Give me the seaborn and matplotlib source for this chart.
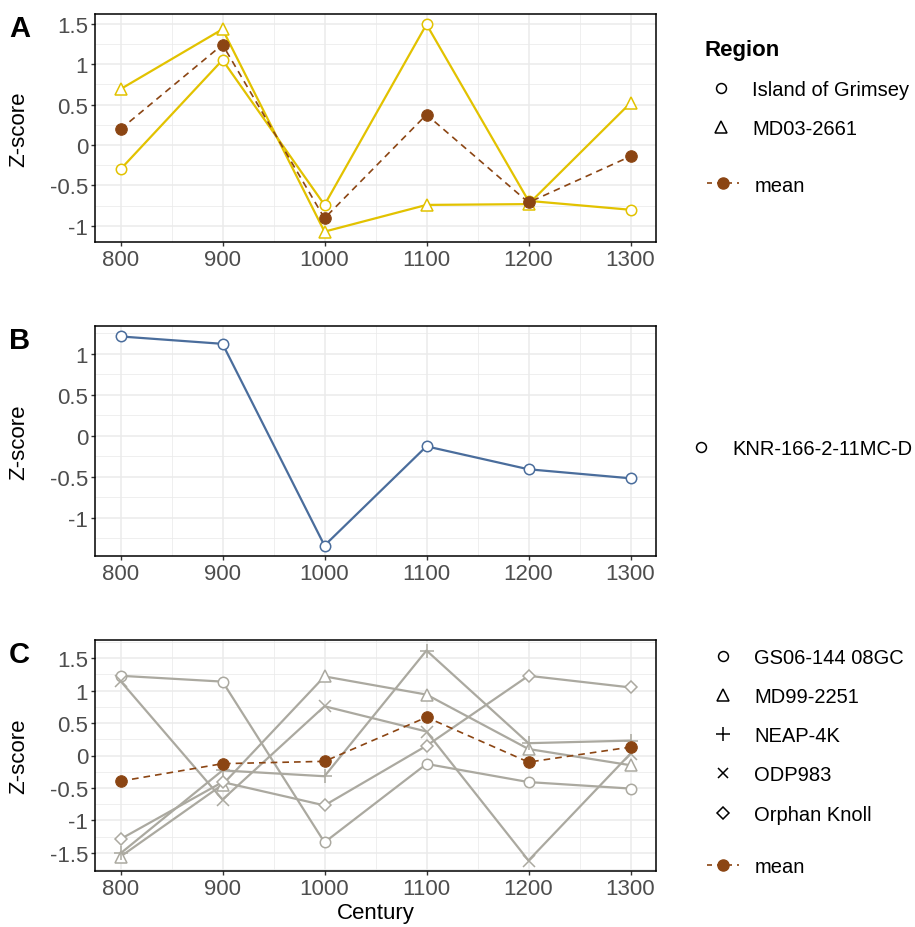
import numpy as np
import pandas as pd
import matplotlib
matplotlib.use("Agg")
import matplotlib.pyplot as plt
from matplotlib.lines import Line2D
from matplotlib.ticker import FixedLocator, FuncFormatter
import seaborn as sns

sns.set_theme(style="white")
plt.rcParams['font.family'] = ['Liberation Sans', 'DejaVu Sans']
plt.rcParams['text.color'] = 'black'
plt.rcParams['axes.labelcolor'] = 'black'

centuries = [800, 900, 1000, 1100, 1200, 1300]

# Panel A
grimsey = [-0.30, 1.05, -0.74, 1.49, -0.69, -0.80]
md03_2661 = [0.69, 1.43, -1.07, -0.74, -0.73, 0.52]
# Panel B
knr = [1.21, 1.12, -1.34, -0.13, -0.41, -0.52]
# Panel C
gs06 = [1.23, 1.14, -1.34, -0.13, -0.41, -0.51]
md99_2251 = [-1.56, -0.45, 1.22, 0.94, 0.10, -0.15]
neap4k = [-1.51, -0.23, -0.32, 1.62, 0.19, 0.23]
odp983 = [1.15, -0.68, 0.76, 0.37, -1.62, 0.03]
orphan = [-1.29, -0.41, -0.77, 0.15, 1.23, 1.05]

YELLOW = "#E2C200"
BLUE = "#4A6D9C"
GREY = "#ABA9A0"
BROWN = "#8B4513"

panelA = {"Island of Grimsey": grimsey, "MD03-2661": md03_2661}
panelB = {"KNR-166-2-11MC-D": knr}
panelC = {"GS06-144 08GC": gs06, "MD99-2251": md99_2251, "NEAP-4K": neap4k,
          "ODP983": odp983, "Orphan Knoll": orphan}
markers = {"Island of Grimsey": "o", "MD03-2661": "^", "KNR-166-2-11MC-D": "o",
           "GS06-144 08GC": "o", "MD99-2251": "^", "NEAP-4K": "+",
           "ODP983": "x", "Orphan Knoll": "D"}
msizes = {"o": 7.5, "^": 8.5, "+": 10, "x": 8, "D": 6.5}


def to_long(d):
    rows = []
    for site, vals in d.items():
        for c, v in zip(centuries, vals):
            rows.append({"Century": c, "Z": v, "site": site})
    return pd.DataFrame(rows)


fig = plt.figure(figsize=(9.15, 9.28), dpi=100)
L, W = 95 / 915, (656 - 95) / 915
boxes = [(15, 243), (327, 557), (641, 872)]
axes = []
for top, bot in boxes:
    axes.append(fig.add_axes([L, 1 - bot / 928, W, (bot - top) / 928]))

fmt = FuncFormatter(lambda v, p: f"{v:g}".replace("−", "-"))


def style_axis(ax, df, yticks, xlabel):
    lo, hi = df["Z"].min(), df["Z"].max()
    pad = (hi - lo) * 0.05
    ax.set_ylim(lo - pad, hi + pad)
    ax.set_xlim(775, 1325)
    ax.xaxis.set_major_locator(FixedLocator(centuries))
    ax.xaxis.set_minor_locator(FixedLocator([850, 950, 1050, 1150, 1250]))
    ax.yaxis.set_major_locator(FixedLocator(yticks))
    minors = [(yticks[i] + yticks[i + 1]) / 2 for i in range(len(yticks) - 1)]
    step = yticks[1] - yticks[0]
    minors = [yticks[0] - step / 2] + minors + [yticks[-1] + step / 2]
    ax.yaxis.set_minor_locator(FixedLocator(minors))
    ax.yaxis.set_major_formatter(fmt)
    ax.grid(which="major", color="#EBEBEB", lw=1.1)
    ax.grid(which="minor", color="#EBEBEB", lw=0.55)
    ax.set_axisbelow(True)
    ax.tick_params(which="major", direction="out", length=3, width=1, color="#333333",
                   labelsize=16, labelcolor="#4D4D4D", left=True, bottom=True, pad=2)
    ax.tick_params(which="minor", length=0)
    for s in ax.spines.values():
        s.set_color("black")
        s.set_linewidth(1.1)
    ax.set_ylabel("Z-score", fontsize=16, color="black")
    ax.yaxis.set_label_coords(-0.117, 0.5)
    ax.set_xlabel(xlabel, fontsize=16, color="black", labelpad=2)


def draw(ax, d, color, with_mean):
    df = to_long(d)
    for site in d:
        sub = df[df["site"] == site]
        m = markers[site]
        sns.lineplot(data=sub, x="Century", y="Z", ax=ax, color=color, lw=1.6,
                     marker=m, ms=msizes[m], mfc="white", mec=color, mew=1.1,
                     legend=False, zorder=2)
    if with_mean:
        mean_df = df.groupby("Century", as_index=False)["Z"].mean()
        sns.lineplot(data=mean_df, x="Century", y="Z", ax=ax, color=BROWN, lw=1.2,
                     linestyle=(0, (4, 3)), marker="o", ms=8.3, mfc=BROWN, mec=BROWN,
                     legend=False, zorder=3)
    return df


dfA = draw(axes[0], panelA, YELLOW, True)
style_axis(axes[0], dfA, [-1, -0.5, 0, 0.5, 1, 1.5], "")
dfB = draw(axes[1], panelB, BLUE, False)
style_axis(axes[1], dfB, [-1, -0.5, 0, 0.5, 1], "")
dfC = draw(axes[2], panelC, GREY, True)
style_axis(axes[2], dfC, [-1.5, -1, -0.5, 0, 0.5, 1, 1.5], "Century")

for ax, letter, top in zip(axes, ["A", "B", "C"], [15, 327, 641]):
    fig.text(9 / 915, 1 - (top + 14) / 928, letter, fontsize=21, fontweight="bold",
             va="center", ha="left", color="black")


def site_handles(d):
    hs = []
    for site in d:
        m = markers[site]
        hs.append(Line2D([], [], ls="none", marker=m, ms=msizes[m] * 0.95, mfc="white",
                         mec="black", mew=1.1, color="black"))
    return hs


mean_handle = Line2D([], [], color=BROWN, lw=1.2, ls=(0, (3, 3)), marker="o", ms=8,
                     mfc=BROWN, mec=BROWN)

leg_kw = dict(frameon=False, fontsize=14.5, handlelength=1.6, handletextpad=0.75,
              labelspacing=1.0, borderaxespad=0, borderpad=0)

legA = fig.legend(site_handles(panelA), list(panelA), loc="upper left",
                  bbox_to_anchor=(705 / 915, 1 - 40 / 928), title="Region",
                  title_fontproperties={"weight": "bold", "size": 16}, **leg_kw)
legA._legend_box.align = "left"
fig.legend([mean_handle], ["mean"], loc="center left",
           bbox_to_anchor=(707 / 915, 1 - 186 / 928), **leg_kw)
fig.legend(site_handles(panelB), list(panelB), loc="center left",
           bbox_to_anchor=(685 / 915, 1 - 450 / 928), **leg_kw)
fig.legend(site_handles(panelC), list(panelC), loc="upper left",
           bbox_to_anchor=(707 / 915, 1 - 649 / 928), **leg_kw)
fig.legend([mean_handle], ["mean"], loc="center left",
           bbox_to_anchor=(707 / 915, 1 - 868 / 928), **leg_kw)

fig.savefig("out.png", dpi=100, facecolor="white")
